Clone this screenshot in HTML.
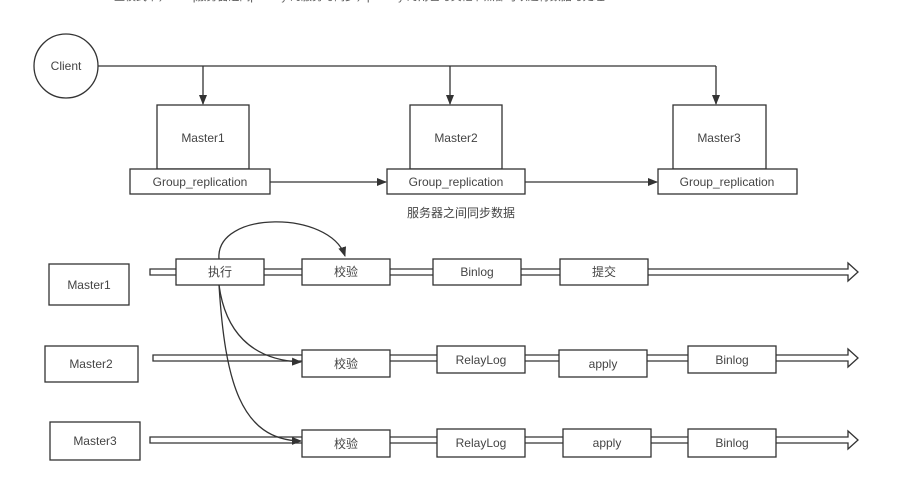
<!DOCTYPE html>
<html><head><meta charset="utf-8"><style>
html,body{margin:0;padding:0;background:#fff;}
svg text{font-family:"Liberation Sans","Noto Sans CJK SC",sans-serif;font-size:12px;fill:#444;}
</style></head><body>
<svg width="903" height="477" viewBox="0 0 903 477" xmlns="http://www.w3.org/2000/svg">
<defs>
<marker id="ah" markerWidth="10" markerHeight="10" refX="9" refY="5" orient="auto" markerUnits="userSpaceOnUse">
<path d="M0,1 L10,5 L0,9 Z" fill="#333"/></marker>
</defs>
<text x="100" y="0" style="font-size:11px;fill:#555">一 主模式下，Mvsq服务器之间primary 的服务与同步，primary 的角色与其他节点都可以进行数据与处理</text>
<g stroke="#333" stroke-width="1.3" fill="none">
<circle cx="66" cy="66" r="32" fill="#fff"/>
<line x1="98" y1="66" x2="716" y2="66"/>
<line x1="203" y1="66" x2="203" y2="104" marker-end="url(#ah)"/>
<line x1="450" y1="66" x2="450" y2="104" marker-end="url(#ah)"/>
<line x1="716" y1="66" x2="716" y2="104" marker-end="url(#ah)"/>
<rect x="157" y="105" width="92" height="64" fill="#fff"/>
<rect x="130" y="169" width="140" height="25" fill="#fff"/>
<rect x="410" y="105" width="92" height="64" fill="#fff"/>
<rect x="387" y="169" width="138" height="25" fill="#fff"/>
<rect x="673" y="105" width="93" height="64" fill="#fff"/>
<rect x="658" y="169" width="139" height="25" fill="#fff"/>
<line x1="270" y1="182" x2="386" y2="182" marker-end="url(#ah)"/>
<line x1="525" y1="182" x2="657" y2="182" marker-end="url(#ah)"/>
<path d="M150,269 H848 V263 L858,272 L848,281 V275 H150 Z" fill="#fff"/>
<path d="M153,355 H848 V349 L858,358 L848,367 V361 H153 Z" fill="#fff"/>
<path d="M150,437 H848 V431 L858,440 L848,449 V443 H150 Z" fill="#fff"/>
<rect x="49" y="264" width="80" height="41" fill="#fff"/>
<rect x="45" y="346" width="93" height="36" fill="#fff"/>
<rect x="50" y="422" width="90" height="38" fill="#fff"/>
<rect x="176" y="259" width="88" height="26" fill="#fff"/>
<rect x="302" y="259" width="88" height="26" fill="#fff"/>
<rect x="433" y="259" width="88" height="26" fill="#fff"/>
<rect x="560" y="259" width="88" height="26" fill="#fff"/>
<rect x="302" y="350" width="88" height="27" fill="#fff"/>
<rect x="437" y="346" width="88" height="27" fill="#fff"/>
<rect x="559" y="350" width="88" height="27" fill="#fff"/>
<rect x="688" y="346" width="88" height="27" fill="#fff"/>
<rect x="302" y="430" width="88" height="27" fill="#fff"/>
<rect x="437" y="429" width="88" height="28" fill="#fff"/>
<rect x="563" y="429" width="88" height="28" fill="#fff"/>
<rect x="688" y="429" width="88" height="28" fill="#fff"/>
<path d="M219,259 C215,210 330,210 345,256" marker-end="url(#ah)"/>
<path d="M219,285 C225,330 250,360 301,362" marker-end="url(#ah)"/>
<path d="M219,285 C225,380 240,440 301,441" marker-end="url(#ah)"/>
</g>
<g text-anchor="middle">
<text x="66" y="70">Client</text>
<text x="203" y="142">Master1</text>
<text x="200" y="186">Group_replication</text>
<text x="456" y="142">Master2</text>
<text x="456" y="186">Group_replication</text>
<text x="719" y="142">Master3</text>
<text x="727" y="186">Group_replication</text>
<text x="461" y="217">服务器之间同步数据</text>
<text x="89" y="289">Master1</text>
<text x="91" y="368">Master2</text>
<text x="95" y="445">Master3</text>
<text x="220" y="276">执行</text>
<text x="346" y="276">校验</text>
<text x="477" y="276">Binlog</text>
<text x="604" y="276">提交</text>
<text x="346" y="368">校验</text>
<text x="481" y="364">RelayLog</text>
<text x="603" y="368">apply</text>
<text x="732" y="364">Binlog</text>
<text x="346" y="448">校验</text>
<text x="481" y="447">RelayLog</text>
<text x="607" y="447">apply</text>
<text x="732" y="447">Binlog</text>
</g>
</svg>
</body></html>
